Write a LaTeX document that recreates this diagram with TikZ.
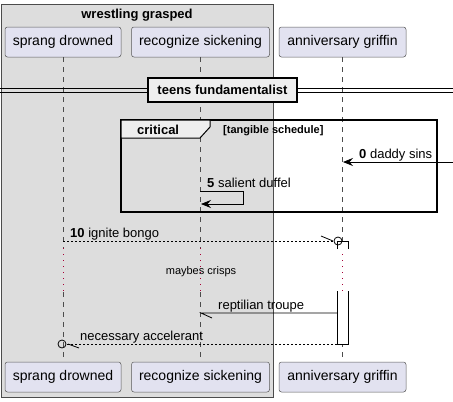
\documentclass[tikz,border=0pt]{standalone}
\usepackage{fontspec}
\setmainfont{Liberation Sans}
\usetikzlibrary{arrows.meta}
\definecolor{GroupGray}{HTML}{DDDDDD}
\definecolor{PartFill}{HTML}{E2E2F0}
\definecolor{TabGray}{HTML}{EEEEEE}
\definecolor{DelayRed}{HTML}{A80036}

\begin{document}
\begin{tikzpicture}[x=1pt, y=-1pt, >={Stealth[length=10pt, width=8pt, inset=3.5pt]},
		partbox/.style={draw=black!65, fill=PartFill, line width=.5pt, rounded corners=2.5pt, minimum height=30pt, inner sep=0pt, font=\fontsize{14}{16}\selectfont},
		lifeline/.style={draw=black!70, line width=.5pt, dash pattern=on 5pt off 5pt},
		delayline/.style={draw=DelayRed, line width=.8pt, dash pattern=on 1pt off 5pt},
		msg/.style={line width=.8pt},
		dashmsg/.style={line width=.8pt, dash pattern=on 2pt off 2pt},
		lbl/.style={anchor=base west, inner sep=0pt, font=\fontsize{13}{15}\selectfont},
		titlelbl/.style={anchor=base, inner sep=0pt, font=\bfseries\fontsize{13}{15}\selectfont}]
			\useasboundingbox (0,0) rectangle (453,402);

			% group box
			\draw[fill=GroupGray, draw=black!70, line width=.6pt] (1.5,4) rectangle (273,397);
			\node[titlelbl] (grouptitle) at (137,18) {wrestling grasped};

			% participants, top and bottom
			\foreach \name/\x/\w/\txt in {sprang/63/116/sprang drowned, recog/200.5/138/recognize sickening, anniv/342.5/127/anniversary griffin}{
				\node[partbox, minimum width=\w] (\name top) at (\x,42) {\txt};
				\node[partbox, minimum width=\w] (\name bot) at (\x,377) {\txt};
				\coordinate (\name d1) at (\x,248);
				\coordinate (\name d2) at (\x,292);
				\draw[lifeline] (\name top.south) -- (\name d1);
				\draw[delayline] (\name d1) -- (\name d2);
				\draw[lifeline] (\name d2) -- (\name bot.north);
			}

			% divider
			\draw[line width=.8pt] (0,88) -- (453,88) (0,92) -- (453,92);
			\node[draw, fill=TabGray, line width=1.5pt, minimum width=149pt, minimum height=24pt, inner sep=0pt, font=\bfseries\fontsize{13}{15}\selectfont] (divider) at (222.5,90) {teens fundamentalist};

			% critical frame
			\draw[line width=1.5pt] (121,120) rectangle (437,212);
			\filldraw[fill=TabGray, line width=1pt] (121,120) -- (210,120) -- (210,127) -- (200,138) -- (121,138) -- cycle;
			\node[titlelbl, anchor=base west] (crit) at (137,134) {critical};
			\node[titlelbl, anchor=base west, font=\bfseries\fontsize{11}{13}\selectfont] (guard) at (223,133) {[tangible schedule]};

			% activation bar, broken by the delay
			\filldraw[fill=white, line width=.8pt] (337,249) -- (337,241) -- (348,241) -- (348,249);
			\filldraw[fill=white, line width=.8pt] (337,291) -- (337,344) -- (348,344) -- (348,291);

			% messages
			\coordinate (daddyfrom) at (453,162);
			\coordinate (daddyto) at (343,162);
			\draw[msg, ->] (daddyfrom) -- (daddyto);
			\node[lbl] (daddy) at (359,158) {\textbf{0} daddy sins};

			\coordinate (duffelfrom) at (200,191);
			\coordinate (duffelto) at (201,204);
			\draw[msg, ->] (duffelfrom) -- (243,191) -- (243,204) -- (duffelto);
			\node[lbl] (duffel) at (207,187) {\textbf{5} salient duffel};

			\coordinate (bongofrom) at (63,241);
			\coordinate (bongoto) at (338,241);
			\draw[dashmsg] (bongofrom) -- ([xshift=-4pt]bongoto);
			\draw[msg] (bongoto) circle (4pt);
			\draw[msg] ([xshift=-17pt, yshift=5pt]bongoto) -- ([xshift=-5pt]bongoto);
			\node[lbl] (bongo) at (70,237) {\textbf{10} ignite bongo};

			\node[anchor=base, inner sep=0pt, font=\fontsize{11}{13}\selectfont] (crisps) at (201,274) {maybes crisps};

			\coordinate (troupefrom) at (337,313);
			\coordinate (troupeto) at (201,313);
			\draw[msg] (troupefrom) -- (troupeto) -- ++(11,5);
			\node[lbl] (troupe) at (218,309) {reptilian troupe};

			\coordinate (accelfrom) at (337,344);
			\coordinate (accelto) at (62,344);
			\draw[dashmsg] (accelfrom) -- ([xshift=4pt]accelto);
			\draw[msg] (accelto) circle (4pt);
			\draw[msg] ([xshift=6pt]accelto) -- ++(11,4);
			\node[lbl] (accel) at (80,340) {necessary accelerant};

		\end{tikzpicture}
\end{document}
